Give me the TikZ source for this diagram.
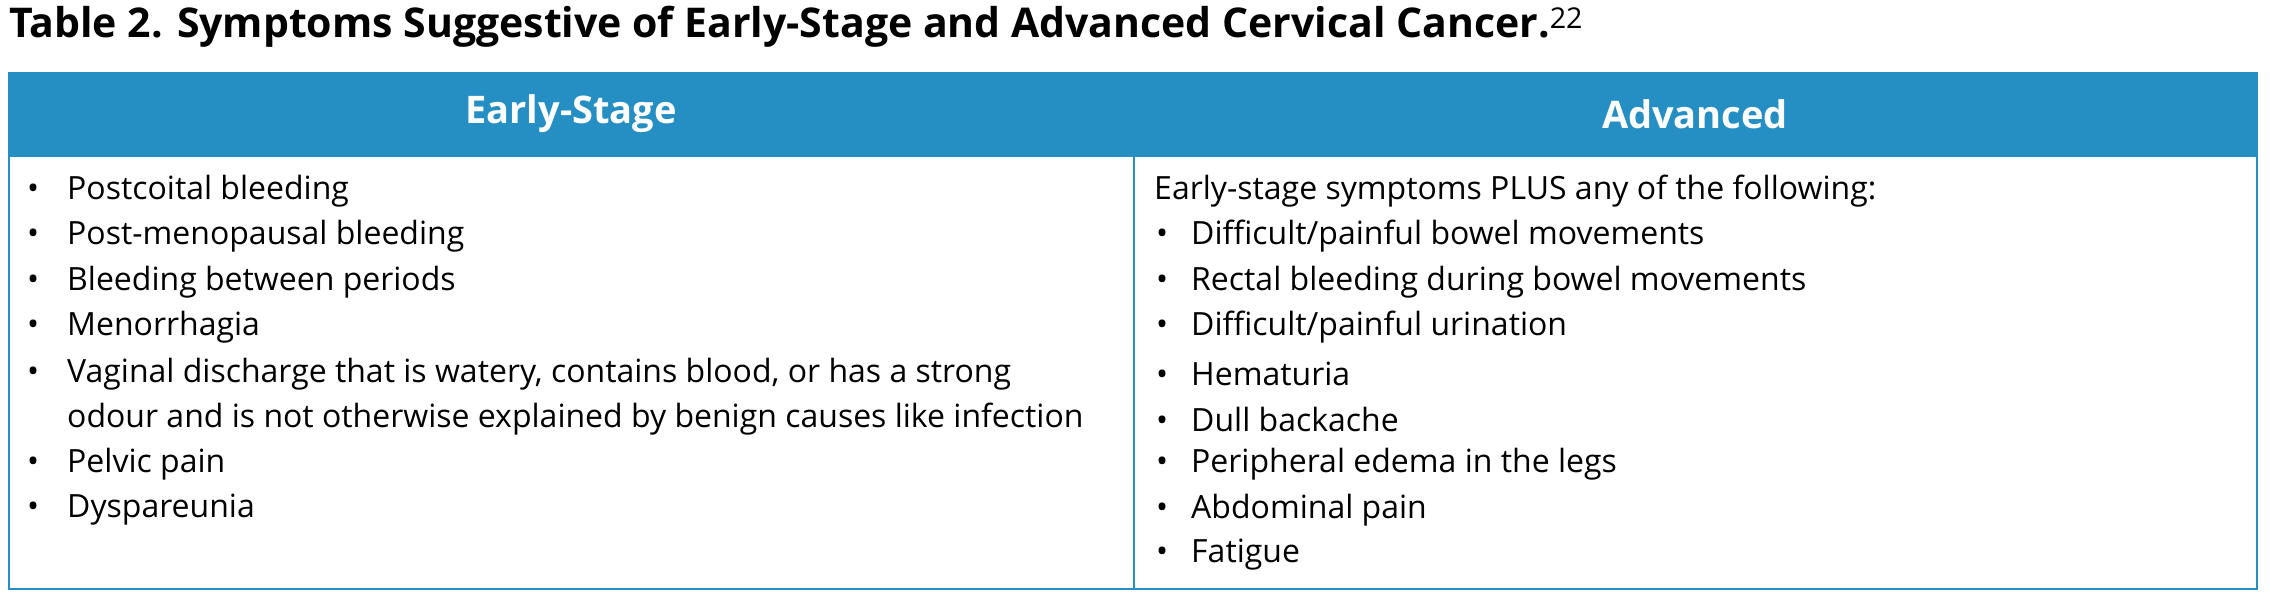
\documentclass[tikz,border=0pt]{standalone}
\usepackage{fontspec}
\setmainfont{Open Sans}
\definecolor{headblue}{HTML}{258FC4}
\tikzstyle{item}=[anchor=west,inner sep=0pt,font=\fontsize{32}{38}\selectfont]
\tikzstyle{dot}=[anchor=west,inner sep=0pt,font=\fontsize{32}{38}\selectfont]
\tikzstyle{head}=[text=white,font=\fontsize{38}{44}\selectfont\bfseries]
\begin{document}
\begin{tikzpicture}[x=1pt,y=-1pt]
    \useasboundingbox (0,0) rectangle (2270,607);
    % title
    \node[anchor=west,inner sep=0pt,font=\fontsize{41}{48}\selectfont\bfseries] (title) at (9,27)
        {Table 2. Symptoms Suggestive of Early-Stage and Advanced Cervical Cancer.\textsuperscript{\mdseries 22}};
    % table frame and header
    \fill[headblue] (9,73) rectangle (2257,157);
    \draw[headblue,line width=1.5pt] (9,73) rectangle (2257,589);
    \draw[headblue,line width=1.5pt] (1134,157) -- (1134,589);
    \node[head] (early) at (571,114) {Early-Stage};
    \node[head] (adv) at (1695,114) {Advanced};
    % left column
    \foreach \y/\txt in {191/{Postcoital bleeding}, 236/{Post-menopausal bleeding}, 282/{Bleeding between periods},
        327/{Menorrhagia}, 374/{Vaginal discharge that is watery, contains blood, or has a strong}, 464/{Pelvic pain}, 510/{Dyspareunia}}
    {
        \node[dot] at (27,\y) {•\hspace{1.0em}\phantom{\txt}};
        \node[item] at (67,\y) {\txt};
    }
    \node[item] (cont) at (67,419) {odour and is not otherwise explained by benign causes like infection};
    % right column
    \node[item] (plus) at (1154,191) {Early-stage symptoms PLUS any of the following:};
    \foreach \y/\txt in {236/{Difficult/painful bowel movements}, 282/{Rectal bleeding during bowel movements},
        327/{Difficult/painful urination}, 374/{Hematuria}, 419/{Dull backache}, 464/{Peripheral edema in the legs},
        510/{Abdominal pain}, 555/{Fatigue}}
    {
        \node[dot] at (1156,\y) {•\phantom{\txt}};
        \node[item] at (1191,\y) {\txt};
    }
\end{tikzpicture}
\end{document}
